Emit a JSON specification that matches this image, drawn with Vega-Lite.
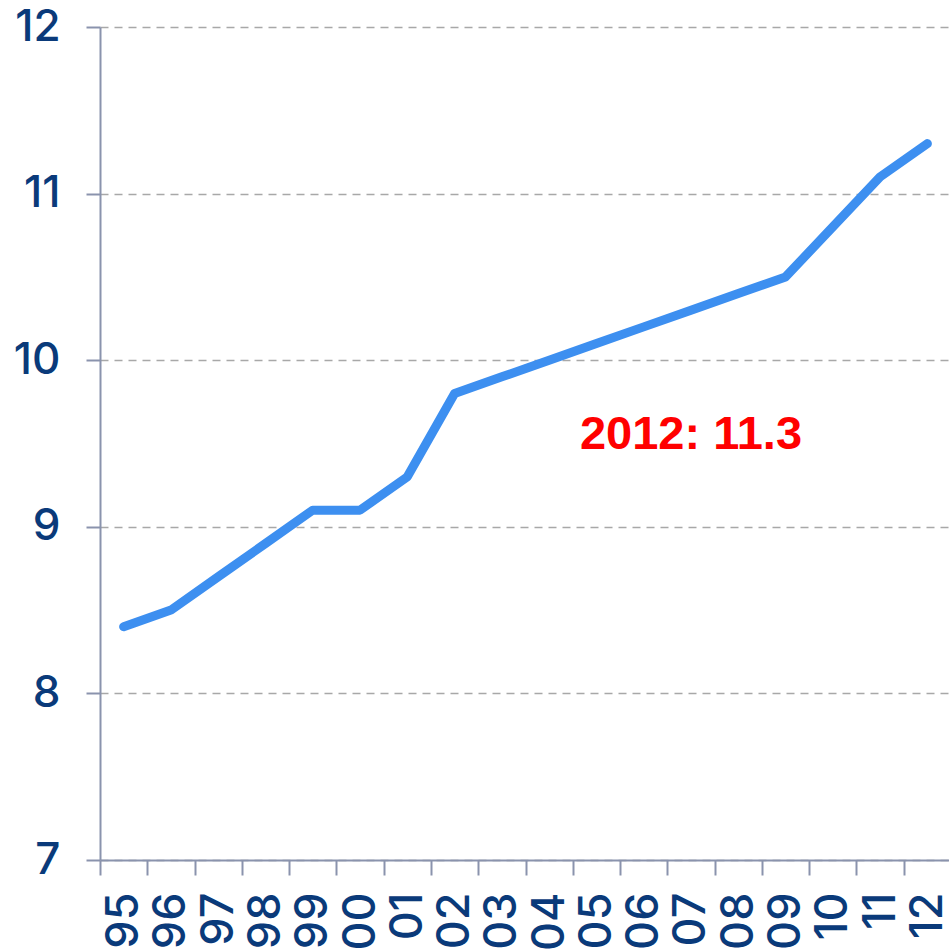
{
  "$schema": "https://vega.github.io/schema/vega-lite/v6.json",
  "width": 851,
  "height": 833,
  "autosize": {"type": "none"},
  "padding": {"left": 100, "top": 27, "right": 0, "bottom": 89},
  "background": "white",
  "config": {"view": {"stroke": null}},
  "data": {
    "values": [
      {"year": "95", "value": 8.4},
      {"year": "96", "value": 8.5},
      {"year": "97", "value": 8.7},
      {"year": "98", "value": 8.9},
      {"year": "99", "value": 9.1},
      {"year": "00", "value": 9.1},
      {"year": "01", "value": 9.3},
      {"year": "02", "value": 9.8},
      {"year": "03", "value": 9.9},
      {"year": "04", "value": 10.0},
      {"year": "05", "value": 10.1},
      {"year": "06", "value": 10.2},
      {"year": "07", "value": 10.3},
      {"year": "08", "value": 10.4},
      {"year": "09", "value": 10.5},
      {"year": "10", "value": 10.8},
      {"year": "11", "value": 11.1},
      {"year": "12", "value": 11.3}
    ]
  },
  "layer": [
    {
      "mark": {"type": "line", "color": "#3d8ff0", "strokeWidth": 9, "strokeCap": "round", "strokeJoin": "round"},
      "encoding": {
        "x": {
          "field": "year", "type": "ordinal", "sort": null,
          "scale": {"type": "band", "paddingInner": 0, "paddingOuter": 0,
            "domain": ["95","96","97","98","99","00","01","02","03","04","05","06","07","08","09","10","11","12"]},
          "axis": {
            "title": null, "grid": false, "tickBand": "extent",
            "domainColor": "#8a93ad", "domainWidth": 2,
            "tickColor": "#8a93ad", "tickWidth": 2, "tickSize": 15,
            "labelAngle": 270, "labelAlign": "right", "labelBaseline": "middle",
            "labelPadding": 17, "labelFontSize": 45, "labelFont": "Inter", "labelFontWeight": 500,
            "labelColor": "#0a3a7a", "labelOverlap": false
          }
        },
        "y": {
          "field": "value", "type": "quantitative",
          "scale": {"domain": [7, 12], "nice": false, "zero": false},
          "axis": {
            "title": null, "values": [7, 8, 9, 10, 11, 12],
            "grid": true, "gridDash": [8, 6], "gridColor": "#a8a8a8", "gridWidth": 1.5,
            "domainColor": "#8a93ad", "domainWidth": 2,
            "tickColor": "#8a93ad", "tickWidth": 2, "tickSize": 14,
            "labelPadding": 26, "labelFontSize": 44, "labelFont": "Inter", "labelFontWeight": 500,
            "labelColor": "#0a3a7a", "format": "d"
          }
        }
      }
    },
    {
      "data": {"values": [{"year": "07", "value": 9.55, "label": "2012: 11.3"}]},
      "mark": {"type": "text", "color": "#ff0000", "fontSize": 47, "fontWeight": "bold", "font": "Liberation Sans", "align": "center", "baseline": "middle"},
      "encoding": {
        "x": {"field": "year", "type": "ordinal"},
        "y": {"field": "value", "type": "quantitative"},
        "text": {"field": "label"}
      }
    }
  ]
}
